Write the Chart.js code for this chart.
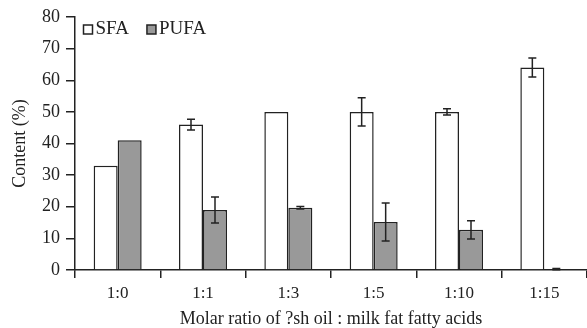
<!DOCTYPE html>
<html>
<head>
<meta charset="utf-8">
<script src="https://cdn.jsdelivr.net/npm/chart.js@4"></script>
<style>
  html, body { margin: 0; padding: 0; background: #fff; }
  #wrap { width: 587px; height: 328px; }
</style>
</head>
<body>
<div id="wrap"><canvas id="chart"></canvas></div>
<script>
// data
var categories = ['1:0', '1:1', '1:3', '1:5', '1:10', '1:15'];
var sfa = [33, 46, 50, 50, 50, 64];
var sfaErr = [0, 1.7, 0, 4.5, 1.0, 3.0];
var pufa = [41, 19, 19.7, 15.2, 12.7, 0.3];
var pufaErr = [0, 4.1, 0.4, 6.0, 2.9, 0.2];
var yTicks = [0, 10, 20, 30, 40, 50, 60, 70, 80];

var serif = "'Liberation Serif', 'DejaVu Serif', serif";
var ink = '#222';

// draw error bars from the scales
var errorBars = {
  id: 'errorBars',
  afterDatasetsDraw: function(chart) {
    var ctx = chart.ctx;
    var y = chart.scales.y;
    ctx.save();
    ctx.strokeStyle = ink;
    ctx.lineWidth = 1.5;
    chart.data.datasets.forEach(function(ds, i) {
      var meta = chart.getDatasetMeta(i);
      meta.data.forEach(function(bar, j) {
        var e = ds.errors[j];
        if (!e) return;
        var v = ds.data[j];
        var top = y.getPixelForValue(v + e);
        var bot = y.getPixelForValue(v - e);
        var x = bar.x;
        ctx.beginPath();
        ctx.moveTo(x, top); ctx.lineTo(x, bot);
        ctx.moveTo(x - 4, top); ctx.lineTo(x + 4, top);
        ctx.moveTo(x - 4, bot); ctx.lineTo(x + 4, bot);
        ctx.stroke();
      });
    });
    ctx.restore();
  }
};

// legend inside the top left corner of the plot
var innerLegend = {
  id: 'innerLegend',
  afterDraw: function(chart) {
    var ctx = chart.ctx;
    var a = chart.chartArea;
    var x = a.left + 8.5, yc = a.top + 12;
    ctx.save();
    ctx.font = '19px ' + serif;
    ctx.textBaseline = 'middle';
    ctx.lineWidth = 1.5;
    chart.data.datasets.forEach(function(ds) {
      ctx.fillStyle = ds.backgroundColor;
      ctx.strokeStyle = ink;
      ctx.fillRect(x, yc - 4, 9, 9);
      ctx.strokeRect(x, yc - 4, 9, 9);
      ctx.fillStyle = ink;
      ctx.fillText(ds.label, x + 12, yc);
      x += 12 + ctx.measureText(ds.label).width + 18;
    });
    ctx.restore();
  }
};

new Chart(document.getElementById('chart'), {
  type: 'bar',
  data: {
    labels: categories,
    datasets: [
      { label: 'SFA', data: sfa, errors: sfaErr, backgroundColor: '#ffffff',
        borderColor: ink, borderWidth: 1.5 },
      { label: 'PUFA', data: pufa, errors: pufaErr, backgroundColor: '#999999',
        borderColor: ink, borderWidth: 1.5 }
    ]
  },
  options: {
    responsive: true,
    maintainAspectRatio: false,
    animation: false,
    layout: { padding: { top: 17, right: 0, left: 0, bottom: 0 } },
    datasets: { bar: { categoryPercentage: 0.5625, barPercentage: 1 } },
    plugins: {
      legend: { display: false },
      tooltip: { enabled: false }
    },
    scales: {
      x: {
        afterFit: function(s) { s.height = 58; },
        grid: { display: true, offset: true, drawOnChartArea: false, drawTicks: true,
                tickLength: 8, color: ink, lineWidth: 1.5 },
        border: { color: ink, width: 1.5 },
        ticks: { color: ink, font: { family: serif, size: 17 }, padding: 5 },
        title: { display: true, text: 'Molar ratio of ?sh oil : milk fat fatty acids',
                 color: ink, font: { family: serif, size: 18, lineHeight: 1 },
                 padding: { top: -2, bottom: 0 } }
      },
      y: {
        min: 0, max: 80,
        afterFit: function(s) { s.width = 75; },
        afterBuildTicks: function(s) { s.ticks = yTicks.map(function(v) { return { value: v }; }); },
        grid: { display: true, drawOnChartArea: false, drawTicks: true,
                tickLength: 9, color: ink, lineWidth: 1.5 },
        border: { color: ink, width: 1.5 },
        ticks: { color: ink, font: { family: serif, size: 18 }, padding: 6 },
        title: { display: true, text: 'Content (%)', color: ink,
                 font: { family: serif, size: 18 }, padding: { top: 9, bottom: 0 } }
      }
    }
  },
  plugins: [errorBars, innerLegend]
});
</script>
</body>
</html>
